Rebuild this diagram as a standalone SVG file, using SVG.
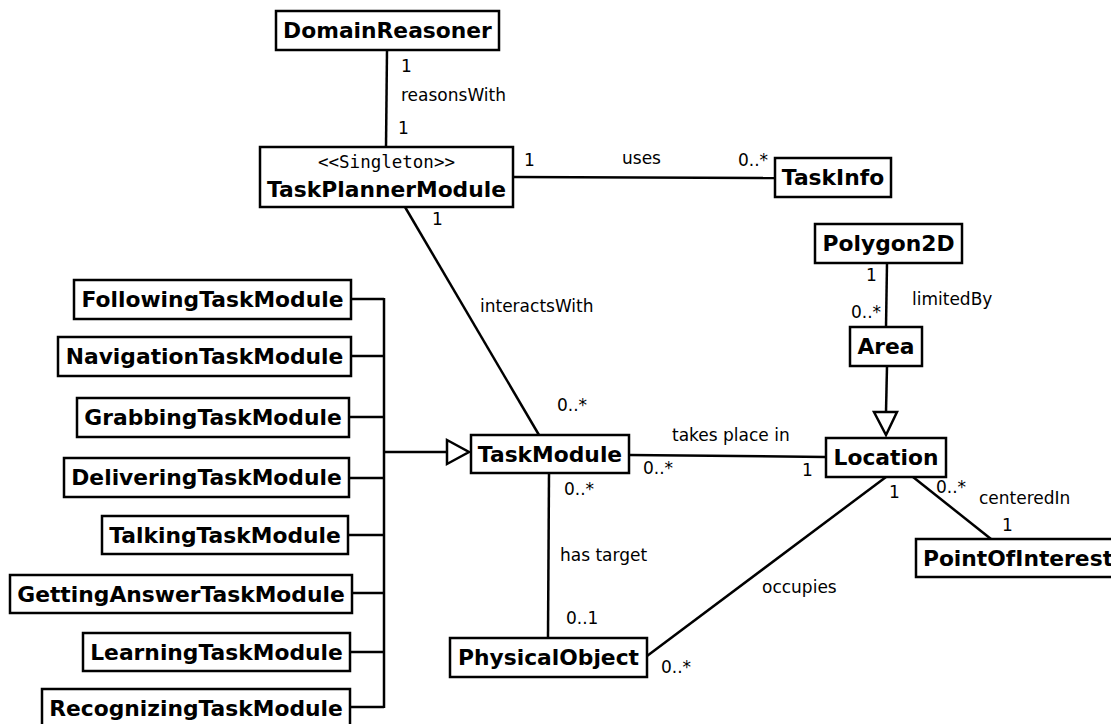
<svg xmlns="http://www.w3.org/2000/svg" width="1111" height="724" viewBox="0 0 1111 724">
  <style>
    .box { fill: #fff; stroke: #000; stroke-width: 2.5; }
    .title { font-family: "DejaVu Sans", sans-serif; font-weight: bold; font-size: 21.8px; text-anchor: middle; fill: #000; }
    .stereo { font-family: "DejaVu Sans Mono", monospace; font-size: 17.5px; text-anchor: middle; fill: #000; }
    .lbl { font-family: "DejaVu Sans", sans-serif; font-size: 17px; fill: #000; }
    .edge { fill: none; stroke: #000; stroke-width: 2.5; }
    .gen { fill: #fff; stroke: #000; stroke-width: 2.5; }
  </style>
  <rect width="1111" height="724" fill="#fff"/>

  <!-- associations and generalisations -->
  <g id="connectors">
    <line class="edge" x1="387" y1="50" x2="386" y2="147"/>
    <line class="edge" x1="513" y1="177" x2="775" y2="178"/>
    <line class="edge" x1="405" y1="207" x2="539" y2="435"/>
    <line class="edge" x1="887" y1="263" x2="886" y2="327"/>
    <line class="edge" x1="887" y1="366" x2="886" y2="412"/>
    <polygon class="gen" points="874,412 897,412 886,435"/>
    <line class="edge" x1="629" y1="455" x2="826" y2="457"/>
    <line class="edge" x1="549" y1="473" x2="548" y2="638"/>
    <line class="edge" x1="886" y1="477" x2="647" y2="656"/>
    <line class="edge" x1="913" y1="477" x2="991" y2="539"/>
    <!-- subclass bus -->
    <path class="edge" d="M351,299 H384 M351,356 H384 M349,417 H384 M349,478 H384 M348,535 H384 M352,593 H384 M350,652 H384 M350,707 H384 M384,298 V708 M384,452 H447"/>
    <polygon class="gen" points="447,440 447,464 469,452"/>

    <text class="lbl" x="401" y="72">1</text>
    <text class="lbl" x="401" y="101">reasonsWith</text>
    <text class="lbl" x="398" y="134">1</text>
    <text class="lbl" x="524" y="166">1</text>
    <text class="lbl" x="622" y="164">uses</text>
    <text class="lbl" x="738" y="166">0..*</text>
    <text class="lbl" x="432" y="225">1</text>
    <text class="lbl" x="480" y="312">interactsWith</text>
    <text class="lbl" x="557" y="411">0..*</text>
    <text class="lbl" x="866" y="281">1</text>
    <text class="lbl" x="912" y="305">limitedBy</text>
    <text class="lbl" x="851" y="318">0..*</text>
    <text class="lbl" x="672" y="441">takes place in</text>
    <text class="lbl" x="643" y="474">0..*</text>
    <text class="lbl" x="802" y="476">1</text>
    <text class="lbl" x="564" y="495">0..*</text>
    <text class="lbl" x="560" y="561">has target</text>
    <text class="lbl" x="566" y="624">0..1</text>
    <text class="lbl" x="762" y="593">occupies</text>
    <text class="lbl" x="661" y="673">0..*</text>
    <text class="lbl" x="889" y="498">1</text>
    <text class="lbl" x="936" y="493">0..*</text>
    <text class="lbl" x="979" y="504">centeredIn</text>
    <text class="lbl" x="1002" y="531">1</text>
  </g>

  <g id="DomainReasoner">
    <rect class="box" x="276" y="11" width="223" height="39"/>
    <text class="title" x="387.5" y="38">DomainReasoner</text>
  </g>
  <g id="TaskPlannerModule">
    <rect class="box" x="260" y="147" width="253" height="60"/>
    <text class="stereo" x="386.5" y="168">&lt;&lt;Singleton&gt;&gt;</text>
    <text class="title" x="386.5" y="197">TaskPlannerModule</text>
  </g>
  <g id="TaskInfo">
    <rect class="box" x="775" y="158" width="116" height="39"/>
    <text class="title" x="833" y="185">TaskInfo</text>
  </g>
  <g id="Polygon2D">
    <rect class="box" x="815" y="224" width="147" height="39"/>
    <text class="title" x="888.5" y="251">Polygon2D</text>
  </g>
  <g id="Area">
    <rect class="box" x="850" y="327" width="72" height="39"/>
    <text class="title" x="886" y="354">Area</text>
  </g>
  <g id="Location">
    <rect class="box" x="826" y="438" width="120" height="39"/>
    <text class="title" x="886" y="465">Location</text>
  </g>
  <g id="PointOfInterest">
    <rect class="box" x="916" y="539" width="200" height="38"/>
    <text class="title" x="1018" y="566">PointOfInterest</text>
  </g>
  <g id="TaskModule">
    <rect class="box" x="471" y="435" width="158" height="38"/>
    <text class="title" x="550" y="462">TaskModule</text>
  </g>
  <g id="PhysicalObject">
    <rect class="box" x="450" y="638" width="197" height="39"/>
    <text class="title" x="548.5" y="665">PhysicalObject</text>
  </g>

  <g id="FollowingTaskModule">
    <rect class="box" x="74" y="280" width="277" height="39"/>
    <text class="title" x="212.5" y="307">FollowingTaskModule</text>
  </g>
  <g id="NavigationTaskModule">
    <rect class="box" x="58" y="337" width="293" height="39"/>
    <text class="title" x="204.5" y="364">NavigationTaskModule</text>
  </g>
  <g id="GrabbingTaskModule">
    <rect class="box" x="77" y="398" width="272" height="39"/>
    <text class="title" x="213" y="425">GrabbingTaskModule</text>
  </g>
  <g id="DeliveringTaskModule">
    <rect class="box" x="64" y="458" width="285" height="39"/>
    <text class="title" x="206.5" y="485">DeliveringTaskModule</text>
  </g>
  <g id="TalkingTaskModule">
    <rect class="box" x="102" y="516" width="246" height="38"/>
    <text class="title" x="225" y="543">TalkingTaskModule</text>
  </g>
  <g id="GettingAnswerTaskModule">
    <rect class="box" x="10" y="575" width="342" height="38"/>
    <text class="title" x="181" y="602">GettingAnswerTaskModule</text>
  </g>
  <g id="LearningTaskModule">
    <rect class="box" x="83" y="633" width="267" height="38"/>
    <text class="title" x="216.5" y="660">LearningTaskModule</text>
  </g>
  <g id="RecognizingTaskModule">
    <rect class="box" x="42" y="689" width="308" height="38"/>
    <text class="title" x="196" y="716">RecognizingTaskModule</text>
  </g>
</svg>
